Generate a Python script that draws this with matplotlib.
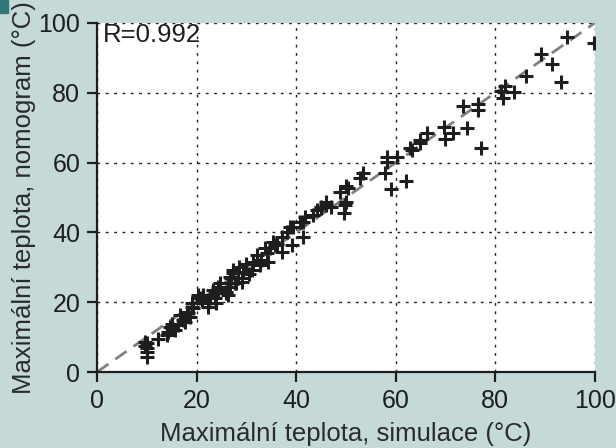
import numpy as np
import matplotlib
matplotlib.use('Agg')
from matplotlib import pyplot as plt
from matplotlib.patches import Rectangle

# maximalni teplota: simulace vs nomogram
sim = [9.6, 10.0, 9.6, 10.0, 10.0, 10.0,
       12.3, 14.0, 14.3, 14.7, 15.0, 15.7, 15.0, 16.3, 16.7, 17.3, 17.7,
       18.0, 18.3, 18.7, 19.0, 19.3, 19.0, 20.3, 20.7, 21.0, 21.3, 22.3,
       22.3, 22.7, 23.4, 23.7, 24.0, 24.4, 24.7, 24.4, 26.0, 26.0, 26.4,
       26.4, 26.7, 26.7, 27.0, 27.4, 27.4, 27.7, 28.0, 28.4, 29.1, 29.1,
       29.4, 31.1, 31.4, 32.1, 32.7, 33.7, 34.1, 34.4, 34.7, 35.4, 36.1,
       37.1, 37.1, 38.1, 38.8, 39.1, 39.4, 40.8, 41.4, 41.4, 41.8, 43.4,
       44.1, 45.1, 45.1, 46.1, 46.1, 47.1, 48.8, 49.7, 49.8, 50.1, 50.1,
       50.5, 52.8, 53.5, 57.8, 58.3, 58.3, 59.0, 60.3, 62.0, 62.9, 63.2,
       64.9, 64.9, 66.2, 69.7, 69.9, 71.5, 74.4, 73.6, 76.6, 76.6, 77.2,
       81.1, 81.6, 81.9, 83.7, 86.1, 89.3, 91.4, 93.3, 94.5, 99.8,
       30.0, 30.5, 33.0, 28.5, 35.8]
nomo = [8.7, 8.2, 7.5, 6.8, 5.8, 4.2,
        9.6, 10.6, 11.5, 13.0, 12.5, 12.0, 13.9, 13.5, 16.3, 14.9, 14.4,
        17.3, 16.8, 15.8, 18.7, 18.2, 19.7, 22.1, 21.1, 20.6, 22.1, 19.7,
        18.7, 21.1, 23.5, 21.1, 19.7, 24.4, 25.4, 23.5, 23.0, 22.6, 22.1,
        25.4, 27.3, 24.4, 26.8, 29.2, 28.3, 25.4, 25.4, 26.8, 25.9, 26.8,
        28.7, 29.2, 31.6, 33.5, 30.7, 35.4, 34.0, 31.6, 35.4, 37.3, 36.8,
        38.8, 34.5, 40.2, 41.6, 36.4, 41.6, 43.1, 38.8, 43.1, 44.5, 45.0,
        46.4, 46.9, 47.4, 47.8, 48.8, 47.4, 51.7, 45.5, 47.8, 48.8, 53.4,
        52.6, 55.5, 56.9, 57.1, 61.5, 60.3, 52.4, 61.5, 54.7, 64.1, 63.6,
        65.5, 66.5, 68.4, 70.3, 66.8, 68.4, 70.0, 76.3, 76.8, 75.1, 64.1,
        80.5, 78.6, 81.9, 80.1, 84.8, 91.0, 88.2, 83.1, 95.9, 94.4,
        31.0, 28.0, 32.0, 30.0, 36.5]
r_text = 'R=0.992'

bg = '#c5d9d9'
plt.rcParams['font.family'] = ['Liberation Sans', 'DejaVu Sans']

fig = plt.figure(figsize=(6.16, 4.48), dpi=100, facecolor=bg)
ax = fig.add_axes([0.1575, 0.1696, 0.808, 0.7791])
ax.set_facecolor('white')

# roh vlevo nahore
fig.patches.append(Rectangle((0, 1 - 13 / 448), 8 / 616, 13 / 448,
                             transform=fig.transFigure, color='#2f7a78',
                             zorder=0))

ax.plot([0, 100], [0, 100], color='#808080', lw=2, dashes=(5, 3), zorder=2)
ax.plot(sim, nomo, '+', color='#1e1e1e', ms=10, mew=2.2, zorder=3)

ax.set_xlim(0, 100)
ax.set_ylim(0, 100)
ax.set_xticks(np.arange(0, 101, 20))
ax.set_yticks(np.arange(0, 101, 20))
ax.grid(True, linestyle=(0, (2, 4)), color='#222222', lw=1)
ax.set_axisbelow(True)

for s in ['top', 'right']:
    ax.spines[s].set_visible(False)
for s in ['left', 'bottom']:
    ax.spines[s].set_linewidth(1.6)
    ax.spines[s].set_color('#1e1e1e')
ax.tick_params(direction='out', length=7, width=1.6, labelsize=18,
               colors='#1e1e1e', pad=5)

ax.set_xlabel('Maximální teplota, simulace (°C)', fontsize=18.5,
              color='#2a2a2a', labelpad=7)
ax.set_ylabel('Maximální teplota, nomogram (°C)', fontsize=18.5,
              color='#2a2a2a', labelpad=2)

ax.text(1.2, 96.6, r_text, fontsize=18.5, color='#1e1e1e', va='center',
        ha='left')

fig.savefig('out.png', dpi=100, facecolor=bg)
